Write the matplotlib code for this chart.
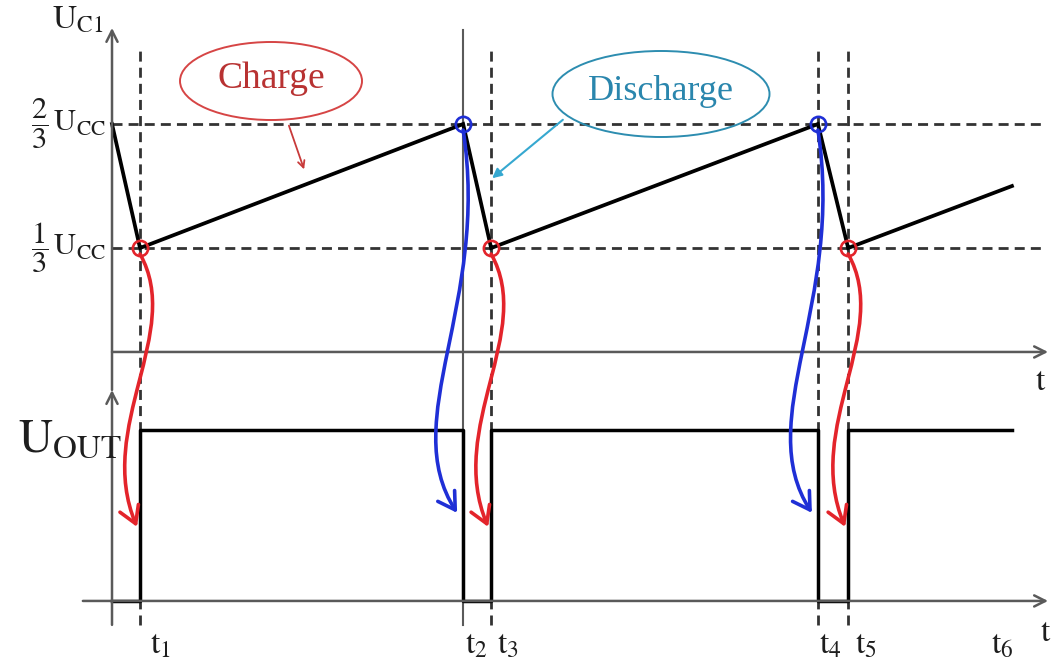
import matplotlib.pyplot as plt
from matplotlib.patches import Ellipse, FancyArrowPatch
from matplotlib.path import Path

plt.rcParams['mathtext.fontset'] = 'stix'
plt.rcParams['font.family'] = ['Liberation Serif', 'DejaVu Serif']

# switching instants of the 555 astable
t_marks = [1.0, 12.54, 13.54, 25.21, 26.29, 32.14]
t_labels = ['t_1', 't_2', 't_3', 't_4', 't_5', 't_6']

# capacitor voltage (fraction of Ucc) at t=0 and each instant
uc_times = [0.0] + t_marks
uc_values = [2 / 3, 1 / 3, 2 / 3, 1 / 3, 2 / 3, 1 / 3, 0.50]

# output level (0 = low, 1 = high) from each instant on
out_levels = [0, 1, 0, 1, 0, 1, 1]

# thresholds
u_high = 2 / 3
u_low = 1 / 3

# comparator events: lower threshold reached -> charge, upper -> discharge
charge_t = [t_marks[0], t_marks[2], t_marks[4]]
discharge_t = [t_marks[1], t_marks[3]]

W, H = 1052, 663
RED = '#e3242b'
BLUE = '#1f2fd6'
AXC = '#5a5a5a'
DASH = '#333333'
TXT = '#1e1e1e'

fig = plt.figure(figsize=(W / 100, H / 100), dpi=100)
ax1 = fig.add_axes([0, 0, 1, 1])   # U_C1 trace
ax2 = fig.add_axes([0, 0, 1, 1])   # U_OUT trace
ax2.patch.set_visible(False)
for ax in (ax1, ax2):
    ax.set_xlim(-4.0, 33.57)
    ax.axis('off')
ax1.set_ylim(-0.782, 1.0)
ax2.set_ylim(-0.363, 3.515)


def px(x, y):
    return x / W, 1 - y / H


def arrow(ax, start, end, **kw):
    props = dict(arrowstyle='->', color=AXC, lw=1.8, mutation_scale=20,
                 shrinkA=0, shrinkB=0)
    props.update(kw)
    ax.annotate('', xy=end, xytext=start, arrowprops=props)


# axes of both traces
u_axis = 0.054
arrow(ax1, (0, u_axis), (33.43, u_axis))
arrow(ax1, (0, -0.048), (0, 0.925))
arrow(ax2, (-1.04, 0), (33.43, 0))
arrow(ax2, (0, -0.14), (0, 1.234))

dashes = (0, (3.6, 2.2))

# threshold guides
for lvl in (u_high, u_low):
    ax1.plot([0, 33.3], [lvl, lvl], color=DASH, lw=2, ls=dashes)

# vertical guides at the switching instants
for i, t in enumerate(t_marks[:5]):
    if i == 1:
        ax1.axvline(t, ymin=38 / H, ymax=1 - 30 / H, color=AXC, lw=1.5)
    else:
        ax1.axvline(t, ymin=38 / H, ymax=1 - 45 / H, color=DASH, lw=2,
                    ls=dashes)

# traces
ax1.plot(uc_times, uc_values, color='black', lw=2.7, solid_joinstyle='miter')
ax2.plot(uc_times, out_levels, color='black', lw=2.5, drawstyle='steps-post')

# comparator event markers
ax1.plot(charge_t, [u_low] * len(charge_t), 'o', ms=11, mfc='none',
         mec=RED, mew=1.9)
ax1.plot(discharge_t, [u_high] * len(discharge_t), 'o', ms=11, mfc='none',
         mec=BLUE, mew=1.9)

# curved arrows from each event down to the output edge
inv = fig.transFigure.inverted()
events = [(t, u_low, RED, -3, 0.433, (44, -78), (-42, 100)) for t in charge_t]
events += [(t, u_high, BLUE, -6, 0.515, (27, -174), (-60, 93)) for t in discharge_t]
for t, lvl, col, dx, yend, c1, c2 in events:
    p0 = ax1.transData.transform((t, lvl)) + [0, -6]
    p3 = ax2.transData.transform((t, yend)) + [dx, 0]
    verts = inv.transform([p0, p0 + c1, p3 + c2, p3])
    path = Path(verts, [Path.MOVETO, Path.CURVE4, Path.CURVE4, Path.CURVE4])
    fig.add_artist(FancyArrowPatch(
        path=path, arrowstyle='->,head_length=0.5,head_width=0.3',
        mutation_scale=24, color=col, lw=2.6, transform=fig.transFigure))

# Charge / Discharge callouts
fig.add_artist(Ellipse(px(271, 81), 182 / W, 78 / H, transform=fig.transFigure,
                       fill=False, ec='#d64545', lw=1.4))
fig.text(*px(271, 79), 'Charge', color='#b83232', fontsize=27,
         ha='center', va='center')
fig.add_artist(FancyArrowPatch(px(288, 123), px(305, 172),
                               transform=fig.transFigure, color='#c83a3a',
                               lw=1.3, arrowstyle='->', mutation_scale=12))

fig.add_artist(Ellipse(px(661, 94), 217 / W, 86 / H, transform=fig.transFigure,
                       fill=False, ec='#2d8db0', lw=1.4))
fig.text(*px(661, 91), 'Discharge', color='#2a86ad', fontsize=26,
         ha='center', va='center')
fig.add_artist(FancyArrowPatch(px(565, 118), px(490, 180),
                               transform=fig.transFigure, color='#36a8d0',
                               lw=1.5, arrowstyle='-|>', mutation_scale=14))

# axis labels
fig.text(*px(52, 20), r'$\mathrm{U}_{\mathrm{C1}}$', fontsize=24,
         ha='left', va='center', color=TXT)
fig.text(*px(18, 440), r'$\mathrm{U}_{\mathrm{OUT}}$', fontsize=34,
         ha='left', va='center', color=TXT)
ax1.text(-0.2, u_high, r'$\dfrac{2}{3}\,\mathrm{U}_{\mathrm{CC}}$',
         fontsize=22, ha='right', va='center', color=TXT)
ax1.text(-0.2, u_low, r'$\dfrac{1}{3}\,\mathrm{U}_{\mathrm{CC}}$',
         fontsize=22, ha='right', va='center', color=TXT)
fig.text(*px(1041, 382), r'$\mathrm{t}$', fontsize=24, ha='center',
         va='center', color=TXT)
fig.text(*px(1046, 633), r'$\mathrm{t}$', fontsize=24, ha='center',
         va='center', color=TXT)

for i, (t, lab) in enumerate(zip(t_marks, t_labels)):
    xoff = [0.35, 0.05, 0.2, 0.05, 0.25, -0.75][i]
    ax2.text(t + xoff, -0.26, r'$\mathrm{' + lab + '}$', fontsize=24,
             ha='left', va='center', color=TXT)

fig.savefig('out.png', dpi=100)
